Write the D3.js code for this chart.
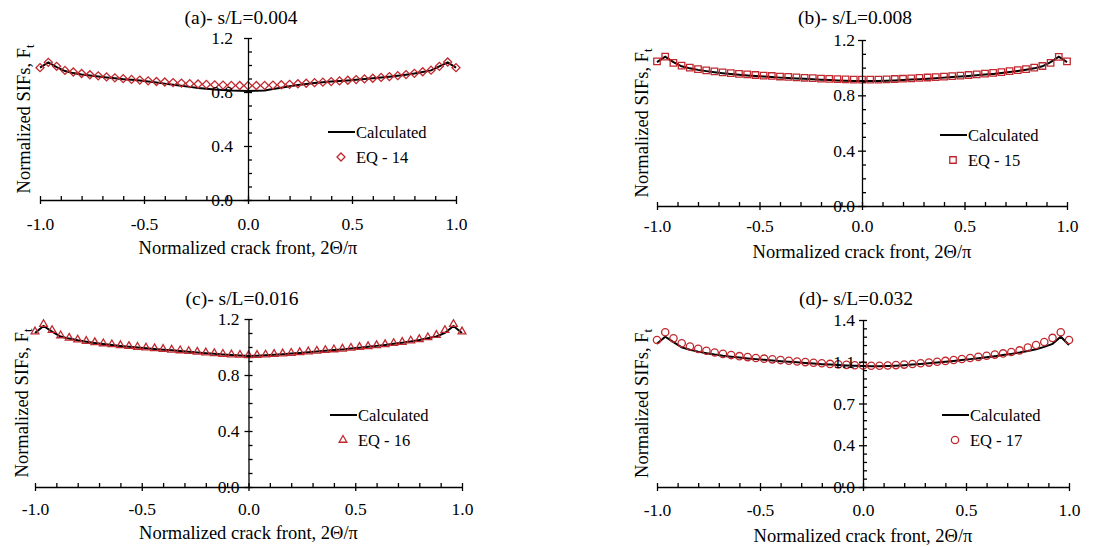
<!DOCTYPE html>
<html>
<head>
<meta charset="utf-8">
<script src="https://cdn.jsdelivr.net/npm/d3@7"></script>
<style>
  body { margin: 0; background: #fff; }
  svg { display: block; }
  text { font-family: "Liberation Serif", "Times New Roman", serif; fill: #000; }
</style>
</head>
<body>
<svg id="chart" width="1104" height="547"></svg>
<script>
// normalized crack front positions, 2Θ/π
const crackFront = [-1.00, -0.96, -0.92, -0.88, -0.84, -0.80, -0.76, -0.72, -0.68, -0.64, -0.60, -0.56, -0.52,
  -0.48, -0.44, -0.40, -0.36, -0.32, -0.28, -0.24, -0.20, -0.16, -0.12, -0.08, -0.04, 0.00,
  0.04, 0.08, 0.12, 0.16, 0.20, 0.24, 0.28, 0.32, 0.36, 0.40, 0.44, 0.48, 0.52, 0.56, 0.60,
  0.64, 0.68, 0.72, 0.76, 0.80, 0.84, 0.88, 0.92, 0.96, 1.00];

// (a) s/L = 0.004
const calcA = [0.980, 1.020, 0.985, 0.955, 0.940, 0.930, 0.922, 0.914, 0.907, 0.901, 0.895, 0.890, 0.885,
  0.878, 0.870, 0.862, 0.854, 0.846, 0.838, 0.830, 0.824, 0.818, 0.814, 0.811, 0.810, 0.808,
  0.809, 0.812, 0.822, 0.832, 0.842, 0.852, 0.860, 0.866, 0.872, 0.877, 0.881, 0.886, 0.891, 0.896, 0.901,
  0.907, 0.913, 0.920, 0.928, 0.937, 0.948, 0.960, 0.990, 1.020, 0.980];
const eqA = [0.980, 1.020, 0.990, 0.960, 0.948, 0.937, 0.928, 0.920, 0.912, 0.905, 0.899, 0.893, 0.888,
  0.883, 0.878, 0.874, 0.870, 0.866, 0.862, 0.859, 0.856, 0.853, 0.851, 0.849, 0.848, 0.847,
  0.848, 0.849, 0.851, 0.854, 0.857, 0.861, 0.865, 0.869, 0.873, 0.877, 0.882, 0.887, 0.892, 0.897, 0.902,
  0.908, 0.914, 0.921, 0.929, 0.938, 0.950, 0.962, 0.990, 1.022, 0.980];

// (b) s/L = 0.008
const calcB = [1.040, 1.080, 1.040, 1.010, 0.995, 0.984, 0.975, 0.967, 0.960, 0.954, 0.949, 0.944, 0.940,
  0.936, 0.932, 0.928, 0.925, 0.922, 0.919, 0.916, 0.913, 0.910, 0.908, 0.906, 0.904, 0.903,
  0.903, 0.904, 0.906, 0.908, 0.911, 0.914, 0.917, 0.920, 0.924, 0.928, 0.932, 0.936, 0.940, 0.945, 0.950,
  0.955, 0.961, 0.968, 0.976, 0.985, 0.995, 1.010, 1.040, 1.080, 1.040];
const eqB = [1.045, 1.080, 1.035, 1.015, 1.000, 0.990, 0.981, 0.973, 0.966, 0.960, 0.955, 0.951, 0.947,
  0.943, 0.940, 0.936, 0.933, 0.930, 0.927, 0.924, 0.921, 0.919, 0.917, 0.915, 0.914, 0.913,
  0.913, 0.914, 0.916, 0.918, 0.920, 0.923, 0.926, 0.929, 0.932, 0.935, 0.939, 0.943, 0.947, 0.952, 0.957,
  0.962, 0.968, 0.975, 0.982, 0.990, 1.000, 1.012, 1.035, 1.078, 1.045];

// (c) s/L = 0.016
const calcC = [1.100, 1.150, 1.110, 1.075, 1.060, 1.048, 1.038, 1.029, 1.021, 1.014, 1.008, 1.002, 0.996,
  0.991, 0.986, 0.981, 0.976, 0.971, 0.966, 0.961, 0.956, 0.951, 0.946, 0.942, 0.939, 0.936,
  0.938, 0.941, 0.945, 0.949, 0.953, 0.958, 0.963, 0.968, 0.973, 0.978, 0.983, 0.989, 0.995, 1.001, 1.008,
  1.015, 1.023, 1.031, 1.040, 1.050, 1.062, 1.075, 1.100, 1.150, 1.100];
const eqC = [1.110, 1.163, 1.120, 1.082, 1.065, 1.052, 1.042, 1.033, 1.025, 1.018, 1.012, 1.006, 1.000,
  0.995, 0.990, 0.985, 0.980, 0.975, 0.970, 0.965, 0.960, 0.955, 0.950, 0.946, 0.943, 0.940,
  0.942, 0.945, 0.949, 0.953, 0.957, 0.962, 0.967, 0.972, 0.977, 0.982, 0.987, 0.993, 0.999, 1.005, 1.012,
  1.019, 1.027, 1.035, 1.045, 1.055, 1.068, 1.085, 1.120, 1.163, 1.110];

// (d) s/L = 0.032
const calcD = [1.200, 1.260, 1.215, 1.170, 1.150, 1.135, 1.122, 1.110, 1.100, 1.092, 1.085, 1.078, 1.072,
  1.066, 1.060, 1.055, 1.050, 1.045, 1.040, 1.035, 1.030, 1.026, 1.022, 1.019, 1.017, 1.015,
  1.012, 1.012, 1.014, 1.017, 1.021, 1.026, 1.031, 1.037, 1.043, 1.050, 1.057, 1.064, 1.072, 1.080, 1.088,
  1.097, 1.106, 1.116, 1.127, 1.140, 1.155, 1.175, 1.200, 1.260, 1.190];
const eqD = [1.232, 1.297, 1.246, 1.205, 1.178, 1.158, 1.142, 1.128, 1.116, 1.106, 1.097, 1.089, 1.082,
  1.076, 1.070, 1.064, 1.058, 1.052, 1.047, 1.042, 1.037, 1.032, 1.028, 1.024, 1.021, 1.019,
  1.017, 1.017, 1.019, 1.022, 1.026, 1.031, 1.037, 1.043, 1.050, 1.057, 1.065, 1.073, 1.082, 1.091, 1.100,
  1.110, 1.120, 1.132, 1.145, 1.170, 1.190, 1.215, 1.250, 1.297, 1.232];

// axis ticks
const xMajorTicks = [-1, -0.5, 0, 0.5, 1];
const xTickLabels = ["-1.0", "-0.5", "0.0", "0.5", "1.0"];
const xMinorTicks = [-0.9, -0.8, -0.7, -0.6, -0.4, -0.3, -0.2, -0.1, 0.1, 0.2, 0.3, 0.4, 0.6, 0.7, 0.8, 0.9];
const yMajorTicks = [0, 0.4, 0.8, 1.2];
const yTickLabels = ["0.0", "0.4", "0.8", "1.2"];
const yMinorTicks = [0.1, 0.2, 0.3, 0.5, 0.6, 0.7, 0.9, 1.0, 1.1];
const yMajorTicksD = [0, 0.35, 0.7, 1.05, 1.4];
const yTickLabelsD = ["0.0", "0.4", "0.7", "1.1", "1.4"];
const yMinorTicksD = [0.07, 0.14, 0.21, 0.28, 0.42, 0.49, 0.56, 0.63, 0.77, 0.84, 0.91, 0.98, 1.12, 1.19, 1.26, 1.33];

const titles = ["(a)- s/L=0.004", "(b)- s/L=0.008", "(c)- s/L=0.016", "(d)- s/L=0.032"];
const eqNames = ["EQ - 14", "EQ - 15", "EQ - 16", "EQ - 17"];

const red = "#c0282e";
const svg = d3.select("#chart");

// layout of each panel (pixel positions of axes)
const panels = [
  {title: titles[0], calc: calcA, eq: eqA, eqName: eqNames[0], marker: "diamond",
   x0: 40, x1: 456, yTop: 38, yBot: 200, yMax: 1.2, yMajor: yMajorTicks, yLabels: yTickLabels, yMinor: yMinorTicks,
   titleX: 241, titleY: 24, yGap: 15, xLabDy: 30, xTitleY: 254, yTitleX: 30, legX: 328, legY: 132},
  {title: titles[1], calc: calcB, eq: eqB, eqName: eqNames[1], marker: "square",
   x0: 657, x1: 1067, yTop: 40, yBot: 206, yMax: 1.2, yMajor: yMajorTicks, yLabels: yTickLabels, yMinor: yMinorTicks,
   titleX: 855, titleY: 24, yGap: 7, xLabDy: 26, xTitleY: 258, yTitleX: 648, legX: 940, legY: 135},
  {title: titles[2], calc: calcC, eq: eqC, eqName: eqNames[2], marker: "triangle",
   x0: 35, x1: 462, yTop: 319, yBot: 487, yMax: 1.2, yMajor: yMajorTicks, yLabels: yTickLabels, yMinor: yMinorTicks,
   titleX: 242, titleY: 305, yGap: 9, xLabDy: 28, xTitleY: 539, yTitleX: 28, legX: 330, legY: 415},
  {title: titles[3], calc: calcD, eq: eqD, eqName: eqNames[3], marker: "circle",
   x0: 657, x1: 1069, yTop: 320, yBot: 487, yMax: 1.4, yMajor: yMajorTicksD, yLabels: yTickLabelsD, yMinor: yMinorTicksD,
   titleX: 856, titleY: 305, yGap: 8, xLabDy: 29, xTitleY: 542, yTitleX: 648, legX: 942, legY: 415}
];

function markerPath(type) {
  if (type === "diamond") return d3.symbol(d3.symbolSquare, 32)();
  if (type === "square") return d3.symbol(d3.symbolSquare, 42)();
  if (type === "triangle") return d3.symbol(d3.symbolTriangle, 26)();
  return d3.symbol(d3.symbolCircle, 42)();
}

function drawMarker(g, type, cx, cy) {
  g.append("path")
    .attr("d", markerPath(type))
    .attr("transform", `translate(${cx},${cy})` + (type === "diamond" ? " rotate(45)" : ""))
    .attr("fill", "none")
    .attr("stroke", red)
    .attr("stroke-width", 1.3);
}

panels.forEach(function(p) {
  let x = d3.scaleLinear().domain([-1, 1]).range([p.x0, p.x1]);
  let y = d3.scaleLinear().domain([0, p.yMax]).range([p.yBot, p.yTop]);
  let g = svg.append("g");

  // calculated line
  let line = d3.line().x((d, i) => x(crackFront[i])).y(d => y(d));
  g.append("path")
    .datum(p.calc)
    .attr("d", line)
    .attr("fill", "none")
    .attr("stroke", "#000")
    .attr("stroke-width", 2);

  // equation markers
  p.eq.forEach(function(v, i) {
    drawMarker(g, p.marker, x(crackFront[i]), y(v));
  });

  // x axis
  let xa = g.append("g").attr("transform", `translate(0,${p.yBot})`)
    .call(d3.axisBottom(x).tickValues(xMajorTicks).tickSizeInner(4).tickSizeOuter(0)
      .tickFormat((d, i) => xTickLabels[i]));
  xa.selectAll(".tick line").attr("y1", -4);
  xa.selectAll(".tick text").attr("y", p.xLabDy).attr("dy", null);
  xa.append("g").call(d3.axisBottom(x).tickValues(xMinorTicks).tickSize(-4).tickFormat(""))
    .select(".domain").remove();

  // y axis
  let ya = g.append("g").attr("transform", `translate(${x(0)},0)`)
    .call(d3.axisLeft(y).tickValues(p.yMajor).tickSizeInner(4).tickSizeOuter(0)
      .tickFormat((d, i) => p.yLabels[i]));
  ya.selectAll(".tick line").attr("x1", 4);
  ya.selectAll(".tick text").attr("x", -p.yGap);
  ya.append("g").call(d3.axisLeft(y).tickValues(p.yMinor).tickSize(-4).tickFormat(""))
    .select(".domain").remove();

  g.selectAll(".domain, .tick line").attr("stroke", "#000").attr("stroke-width", 1.3);
  g.selectAll(".tick text").attr("font-size", 17.5)
    .attr("font-family", '"Liberation Serif", "Times New Roman", serif').attr("fill", "#000");

  // panel title
  g.append("text").attr("x", p.titleX).attr("y", p.titleY)
    .attr("text-anchor", "middle").attr("font-size", 19.5).text(p.title);

  // axis titles
  g.append("text").attr("x", (p.x0 + p.x1) / 2).attr("y", p.xTitleY)
    .attr("text-anchor", "middle").attr("font-size", 18.5).text("Normalized crack front, 2Θ/π");
  let yt = g.append("text")
    .attr("transform", `translate(${p.yTitleX},${(p.yTop + p.yBot) / 2}) rotate(-90)`)
    .attr("text-anchor", "middle").attr("font-size", 18.5);
  yt.append("tspan").text("Normalized SIFs, F");
  yt.append("tspan").attr("font-size", 12.5).attr("dy", 4).text("t");

  // legend
  g.append("line").attr("x1", p.legX).attr("x2", p.legX + 27)
    .attr("y1", p.legY).attr("y2", p.legY)
    .attr("stroke", "#000").attr("stroke-width", 2);
  g.append("text").attr("x", p.legX + 28).attr("y", p.legY + 5.5)
    .attr("font-size", 16.5).text("Calculated");
  drawMarker(g, p.marker, p.legX + 13, p.legY + 25);
  g.append("text").attr("x", p.legX + 28).attr("y", p.legY + 30.5)
    .attr("font-size", 16.5).text(p.eqName);
});
</script>
</body>
</html>
